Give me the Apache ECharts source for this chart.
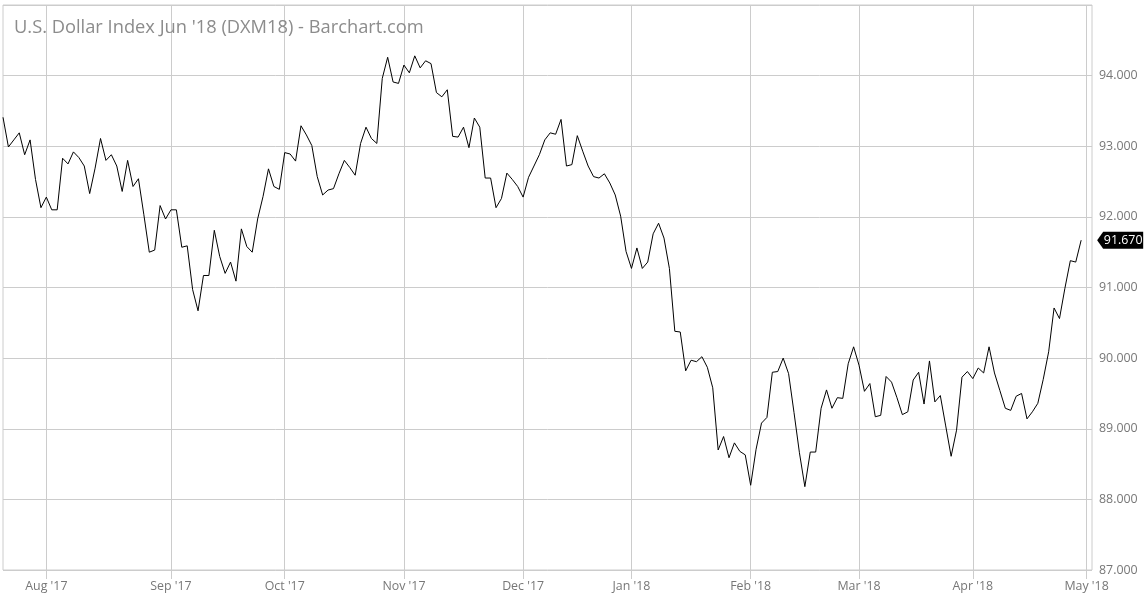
<!DOCTYPE html>
<html>
<head>
<meta charset="utf-8">
<script src="https://cdn.jsdelivr.net/npm/echarts@6/dist/echarts.min.js"></script>
<style>
html,body{margin:0;padding:0;background:#fff;}
#chart{width:1144px;height:595px;}
</style>
</head>
<body>
<div id="chart"></div>
<script>
// Trading days shown on the chart (day numbers per month)
const days_2017_07 = [20,21,24,25,26,27,28,31];
const days_2017_08 = [1,2,3,4,7,8,9,10,11,14,15,16,17,18,21,22,23,24,25,28,29,30,31];
const days_2017_09 = [1,4,5,6,7,8,11,12,13,14,15,18,19,20,21,22,25,26,27,28,29];
const days_2017_10 = [2,3,4,5,6,9,10,11,12,13,16,17,18,19,20,23,24,25,26,27,30,31];
const days_2017_11 = [1,2,3,6,7,8,9,10,13,14,15,16,17,20,21,22,23,24,27,28,29,30];
const days_2017_12 = [1,4,5,6,7,8,11,12,13,14,15,18,19,20,21,22,26,27,28,29];
const days_2018_01 = [2,3,4,5,8,9,10,11,12,15,16,17,18,19,22,23,24,25,26,29,30,31];
const days_2018_02 = [1,2,5,6,7,8,9,12,13,14,15,16,19,20,21,22,23,26,27,28];
const days_2018_03 = [1,2,5,6,7,8,9,12,13,14,15,16,19,20,21,22,23,26,27,28,29];
const days_2018_04 = [2,3,4,5,6,9,10,11,12,13,16,17,18,19,20,23,24,25,26,27,30];
const days_2018_05 = [1,2];

// Daily closes of DXM18
const closes = [
 93.41,92.99,93.09,93.19,92.88,93.09,92.53,92.13,92.28,92.10,
 92.10,92.83,92.75,92.92,92.84,92.72,92.33,92.69,93.11,92.80,
 92.88,92.72,92.36,92.80,92.43,92.54,92.03,91.50,91.53,92.16,
 91.97,92.10,92.10,91.57,91.59,90.97,90.67,91.17,91.17,91.81,
 91.44,91.20,91.36,91.09,91.83,91.58,91.50,91.97,92.29,92.68,
 92.43,92.39,92.91,92.89,92.79,93.29,93.16,93.01,92.57,92.31,
 92.38,92.40,92.61,92.80,92.70,92.59,93.04,93.27,93.11,93.04,
 93.96,94.26,93.91,93.89,94.15,94.04,94.28,94.11,94.21,94.17,
 93.76,93.70,93.80,93.14,93.13,93.27,92.98,93.40,93.27,92.55,
 92.55,92.13,92.26,92.62,92.53,92.43,92.28,92.56,92.72,92.88,
 93.09,93.19,93.17,93.38,92.72,92.74,93.15,92.93,92.72,92.57,
 92.55,92.61,92.48,92.31,92.01,91.51,91.27,91.56,91.27,91.36,
 91.76,91.91,91.70,91.27,90.38,90.37,89.82,89.97,89.95,90.02,
 89.87,89.58,88.70,88.89,88.59,88.80,88.68,88.63,88.20,88.71,
 89.08,89.16,89.80,89.81,90.00,89.78,89.23,88.66,88.18,88.67,
 88.67,89.29,89.55,89.29,89.44,89.43,89.92,90.16,89.90,89.53,
 89.64,89.17,89.19,89.74,89.66,89.44,89.20,89.24,89.69,89.80,
 89.35,89.96,89.38,89.47,89.04,88.61,88.98,89.73,89.81,89.71,
 89.86,89.79,90.16,89.79,89.54,89.29,89.26,89.46,89.50,89.14,
 89.24,89.36,89.70,90.09,90.71,90.56,90.99,91.38,91.36,91.67
];

const yTicks = {min: 87, max: 95, interval: 1};
const titleText = "U.S. Dollar Index Jun '18 (DXM18) - Barchart.com";
const monthNames = ['Jan','Feb','Mar','Apr','May','Jun','Jul','Aug','Sep','Oct','Nov','Dec'];

const monthDays = [
  ['2017','07',days_2017_07],['2017','08',days_2017_08],['2017','09',days_2017_09],
  ['2017','10',days_2017_10],['2017','11',days_2017_11],['2017','12',days_2017_12],
  ['2018','01',days_2018_01],['2018','02',days_2018_02],['2018','03',days_2018_03],
  ['2018','04',days_2018_04],['2018','05',days_2018_05]
];
const categories = [];
monthDays.forEach(([y,m,ds]) => ds.forEach(d => categories.push(y+'-'+m+'-'+String(d).padStart(2,'0'))));

const monthStart = categories.map((c,i) => i > 0 && c.slice(0,7) !== categories[i-1].slice(0,7));
const isMonthStart = (i) => !!monthStart[i];
const lastIdx = closes.length - 1;

const chart = echarts.init(document.getElementById('chart'));
const FONT = '"Open Sans", "Noto Sans", sans-serif';
chart.setOption({
  animation: false,
  backgroundColor: '#fff',
  title: {
    text: titleText,
    left: 9, top: 14,
    textStyle: {fontFamily: FONT, fontSize: 18.3, fontWeight: 'normal', color: '#8c8c8c'}
  },
  grid: {left: 3, right: 52, top: 5, bottom: 25, show: true, borderColor: '#cccccc', borderWidth: 1, containLabel: false},
  xAxis: {
    type: 'category',
    data: categories,
    boundaryGap: false,
    axisLine: {show: false},
    axisTick: {show: true, interval: isMonthStart, length: 9, lineStyle: {color: '#cccccc'}},
    splitLine: {show: true, interval: isMonthStart, lineStyle: {color: '#cccccc'}},
    axisLabel: {
      interval: isMonthStart,
      margin: 10,
      color: '#777',
      fontFamily: FONT,
      fontSize: 12.4,
      formatter: (v) => monthNames[parseInt(v.slice(5,7),10)-1] + " '" + v.slice(2,4)
    }
  },
  yAxis: {
    type: 'value',
    position: 'right',
    min: yTicks.min, max: yTicks.max, interval: yTicks.interval,
    axisLine: {show: false},
    axisTick: {show: false},
    splitLine: {show: true, lineStyle: {color: '#cccccc'}},
    axisLabel: {
      showMaxLabel: false,
      margin: 7,
      color: '#777',
      fontFamily: FONT,
      fontSize: 12.4,
      formatter: (v) => v.toFixed(3)
    }
  },
  series: [{
    type: 'line',
    data: closes,
    symbol: 'none',
    lineStyle: {color: '#000', width: 1},
    markPoint: {
      symbol: 'path://M0,8 L6,0 L46,0 L46,16 L6,16 Z',
      symbolSize: [46, 17],
      symbolKeepAspect: false,
      symbolOffset: [39, 0],
      itemStyle: {color: '#000'},
      label: {
        show: true, position: 'inside', offset: [3, 0],
        color: '#fff', fontFamily: FONT, fontSize: 12.4,
        formatter: (p) => p.value.toFixed(3)
      },
      data: [{coord: [lastIdx, closes[lastIdx]], value: closes[lastIdx]}]
    }
  }]
});
</script>
</body>
</html>
